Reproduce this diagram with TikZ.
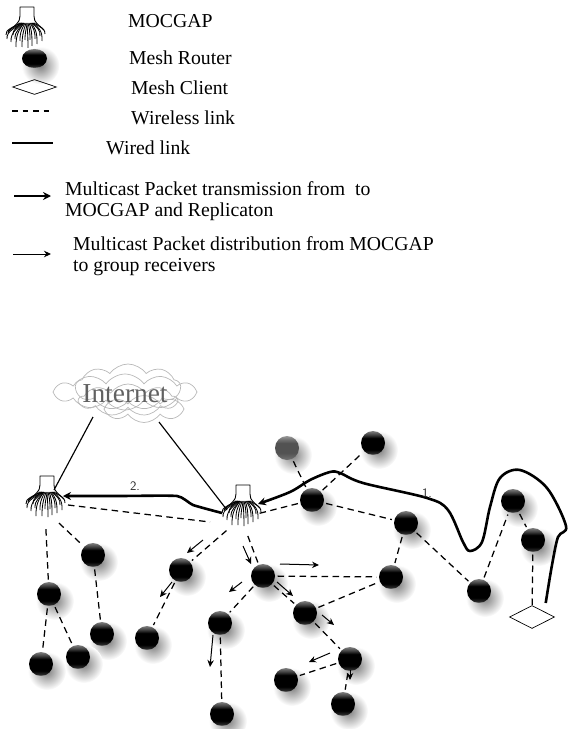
\documentclass[tikz,border=0pt]{standalone}
\usepackage{fontspec}
\setmainfont{Liberation Serif}
\usetikzlibrary{shapes.geometric,shapes.symbols,arrows.meta,backgrounds}
\pgfdeclareverticalshading{ballsh}{100bp}{color(0bp)=(black!40);color(25bp)=(black!45);color(29bp)=(black!85);color(36bp)=(black);color(60bp)=(black);color(68bp)=(black!72);color(75bp)=(black!50);color(100bp)=(black!50)}
\pgfdeclareverticalshading{greysh}{100bp}{color(0bp)=(black!50);color(25bp)=(black!55);color(40bp)=(black!68);color(60bp)=(black!68);color(68bp)=(black!55);color(75bp)=(black!40);color(100bp)=(black!40)}
\tikzset{
  router/.style={circle,minimum size=24bp,inner sep=0pt,outer sep=2.5bp,shading=ballsh},
  greyrouter/.style={router,shading=greysh},
  client/.style={diamond,draw=black,line width=.7bp,fill=white,minimum width=45bp,minimum height=23bp,inner sep=0pt,aspect=2},
  root/.style={circle,minimum size=38bp,inner sep=0pt},
  wireless/.style={dash pattern=on 6.5bp off 4.5bp,line width=1.25bp,black},
  wired/.style={line width=1.15bp,black},
  fatarrow/.style={line width=2.6bp,black,-{Stealth[length=8bp,width=8bp]},line join=round},
  thinarrow/.style={line width=1bp,black,-{Stealth[length=7bp,width=6.5bp]}},
  legendtext/.style={anchor=west,inner sep=0pt,font=\fontsize{19.8}{22}\selectfont},
  steptext/.style={inner sep=0pt,font=\sffamily\fontsize{13}{15}\selectfont,text=black!85},
  cloudpart/.style={cloud,cloud puffs=11,cloud puff arc=110,aspect=3,draw=black!28,line width=.7bp,inner sep=0pt},
  mocgap/.pic={
    \draw[line width=.9bp,line join=round] (-18,3) .. controls (-12,-3) and (-7,-5) .. (-7,-12) -- (-7,-21) -- (7,-21) -- (7,-12) .. controls (7,-5) and (11,-4) .. (17,2);
    \foreach \sx/\ex/\ey in {-7/-21/7,-6/-19/5,-5/-20/11,-5/-14/7,-4/-16/14,-3/-12/11,-3/-11/19,-2/-7/13,-1/-5/19,0/-2/12,0/1/20,1/3/12,2/5/18,3/8/11,4/10/16,5/13/8,6/15/13,7/18/6}{
      \draw[line width=.85bp] (\sx,-5) .. controls ({\sx*1.9},{-1}) and ({\ex*1.05},{\ey*.25}) .. (\ex,\ey);
    }
  }
}
\begin{document}
\begin{tikzpicture}[x=1bp,y=-1bp]
\useasboundingbox (0,0) rectangle (569,729);
% legend
\pic at (27,28) {mocgap};
\node[legendtext] (t1) at (128,21) {MOCGAP};
\node[ellipse,minimum width=25bp,minimum height=19bp,inner sep=0pt,shading=ballsh] (lr) at (34.5,58.5) {};
\node[legendtext] (t2) at (129,58) {Mesh Router};
\node[diamond,draw=black,line width=.7bp,minimum width=44bp,minimum height=15bp,inner sep=0pt,aspect=3] (lc) at (34.5,87) {};
\node[legendtext] (t3) at (131,88) {Mesh Client};
\coordinate (l1a) at (12,111); \coordinate (l1b) at (53,111);
\draw[wireless,dash pattern=on 5.5bp off 5bp] (l1a) -- (l1b);
\node[legendtext] (t4) at (131,118) {Wireless link};
\coordinate (l2a) at (12,143); \coordinate (l2b) at (53,143);
\draw[wired,line width=1.4bp] (l2a) -- (l2b);
\node[legendtext] (t5) at (106,148) {Wired link};
\coordinate (l3a) at (14,196); \coordinate (l3b) at (51,196);
\draw[fatarrow] (l3a) -- (l3b);
\node[legendtext] (t6) at (65,189) {Multicast Packet transmission from\ \ to};
\node[legendtext] (t7) at (65,212) {MOCGAP and Replicaton};
\coordinate (l4a) at (13,254); \coordinate (l4b) at (51,254);
\draw[thinarrow] (l4a) -- (l4b);
\node[legendtext] (t8) at (73,244) {Multicast Packet distribution from MOCGAP};
\node[legendtext] (t9) at (73,267) {to group receivers};
% cloud
\node[cloudpart,minimum width=144bp,minimum height=36bp,cloud puffs=12] (cl1) at (125,392) {};
\node[cloudpart,minimum width=105bp,minimum height=46bp,cloud puffs=9] (cl2) at (128,387) {};
\node[cloudpart,minimum width=98bp,minimum height=32bp,cloud puffs=9] (cl3) at (128,400) {};
\node[cloudpart,minimum width=80bp,minimum height=27bp,cloud puffs=8] (cl4) at (144,409) {};
\node[inner sep=0pt,text=black!62,font=\fontsize{27.5}{30}\selectfont] (net) at (125,394) {Internet};
% mocgap nodes
\node[root] (A) at (45,510) {};
\node[root] (B) at (241,518) {};
\pic at (47,497) {mocgap};
\pic at (243,506) {mocgap};
% routers
\node[greyrouter] (r1) at (287,448) {};
\node[router] (r2) at (373,443) {};
\node[router] (r3) at (312,500) {};
\node[router] (r4) at (406,523) {};
\node[router] (r5) at (391,577) {};
\node[router] (r6) at (479,591) {};
\node[router] (r7) at (513,501) {};
\node[router] (r8) at (533,540) {};
\node[client] (cli) at (532,617) {};
\node[router] (r9) at (263,576) {};
\node[router] (r10) at (181,570) {};
\node[router] (r11) at (147,638) {};
\node[router] (r12) at (305,613) {};
\node[router] (r13) at (220,623) {};
\node[router] (r14) at (222,714) {};
\node[router] (r15) at (350,659) {};
\node[router] (r16) at (286,680) {};
\node[router] (r17) at (343,704) {};
\node[router] (r18) at (93,555) {};
\node[router] (r19) at (49,594) {};
\node[router] (r20) at (102,634) {};
\node[router] (r21) at (41,664) {};
\node[router] (r22) at (78,657) {};
% shadows
\begin{scope}[on background layer]
  \foreach \n in {r1,r2,r3,r4,r5,r6,r7,r8,r9,r10,r11,r12,r13,r14,r15,r16,r17,r18,r19,r20,r21,r22,lr}{
    \shade[inner color=black!50,outer color=white] ([shift={(6,7)}]\n.center) circle[radius=19bp];
  }
\end{scope}
% wired
\coordinate (c1) at (93,417); \coordinate (c2) at (159,422);
\coordinate (m1) at (54,490); \coordinate (m2) at (227,510);
\draw[wired] (c1) -- (m1);
\draw[wired] (c2) -- (m2);
% wireless
\coordinate (Ae) at (68,505); \coordinate (Bw) at (210,522);
\draw[wireless] (Ae) -- (Bw);
\foreach \a/\b in {A/r18,A/r19,r18/r20,r19/r21,r19/r22,B/r3,B/r10,B/r9,r10/r11,r3/r1,r3/r2,r3/r4,r4/r5,r4/r6,r6/r7,r7/r8,r8/cli,r9/r5,r9/r12,r9/r13,r12/r5,r12/r15,r13/r14,r15/r16,r15/r17}{
  \draw[wireless] (\a) -- (\b);
}
% transmission paths
\coordinate (p1s) at (545.7,603); \coordinate (p1e) at (258,504);
\draw[fatarrow] plot[smooth,tension=.55] coordinates {(p1s) (552,565) (558,537) (566,526) (547,488) (520,470) (500,478) (490,507) (482,542) (470,551) (463,542) (448,510) (427,498) (363,483) (340,473) (330,472) (310,480) (290,492) (p1e)};
\coordinate (p2s) at (222,513); \coordinate (p2e) at (63,496);
\draw[fatarrow] plot[smooth,tension=.3] coordinates {(p2s) (193,505) (177,496) (120,496) (p2e)};
\node[steptext] (s1) at (135,486) {2.};
\node[steptext] (s2) at (427,493) {1.};
% distribution arrows
\foreach \i/\p/\q in {a/{203,540}/{187,553},b/{243,546}/{251,564},c/{280,564}/{319,565},d/{242,582}/{229,592},e/{277,582}/{293,596},f/{322,615}/{334,625},g/{330,653}/{309,662},h/{350,670}/{350,680},k/{213,635}/{210,667},m/{172,582}/{160,597}}{
  \coordinate (d\i1) at (\p); \coordinate (d\i2) at (\q);
  \draw[thinarrow] (d\i1) -- (d\i2);
}
\end{tikzpicture}
\end{document}
